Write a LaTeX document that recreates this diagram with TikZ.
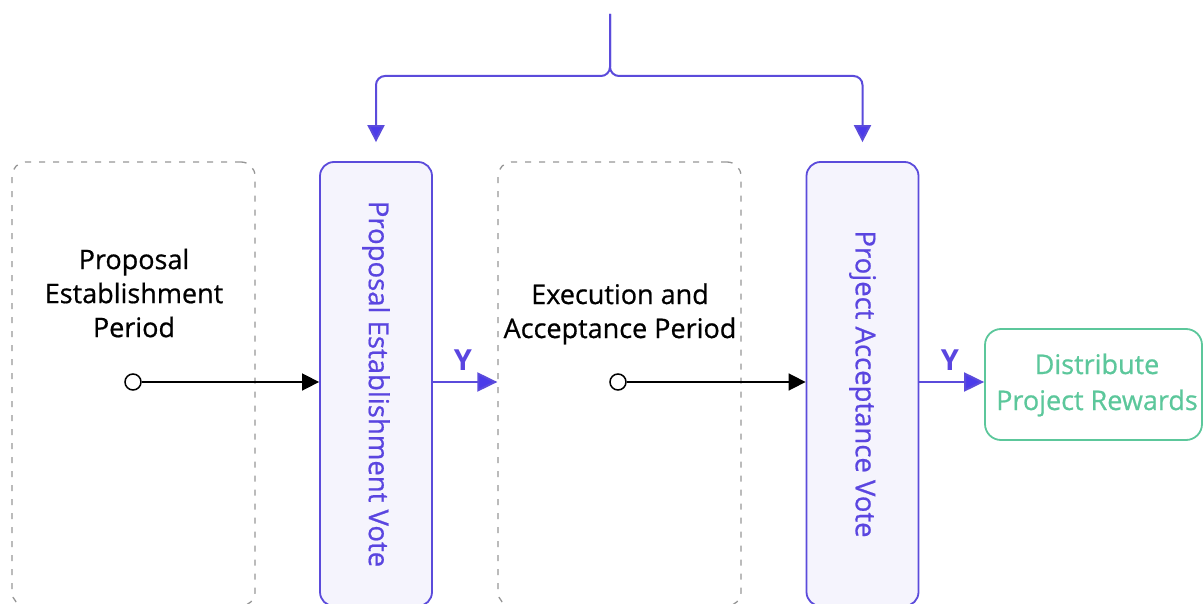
\documentclass[tikz,border=0pt]{standalone}
\usepackage{fontspec}
\setmainfont{Open Sans}
\newfontfamily\medfont{Open Sans}[FakeBold=0.7]
\usetikzlibrary{arrows.meta,calc}
\definecolor{vp}{HTML}{5B4BDB}
\definecolor{vpa}{HTML}{4B3BEA}
\definecolor{vtext}{HTML}{5A45E0}
\definecolor{vfill}{HTML}{F5F4FD}
\definecolor{gr}{HTML}{5CC79B}
\definecolor{dg}{HTML}{969696}
\begin{document}
\begin{tikzpicture}[x=1pt,y=-1pt,
  period/.style={draw=dg, line width=1.3pt, dash pattern=on 6pt off 8pt, rounded corners=14pt,
    minimum width=243pt, minimum height=444pt, inner sep=0pt},
  votebox/.style={draw=vp, fill=vfill, line width=1.8pt, rounded corners=14pt,
    minimum width=112pt, minimum height=444pt, inner sep=0pt},
  votetext/.style={rotate=-90, text=vtext, font=\medfont\fontsize{27.5}{32}\selectfont, inner sep=0pt},
  periodtext/.style={align=center, font=\medfont\fontsize{27}{34}\selectfont, inner sep=0pt},
  endbox/.style={draw=gr, line width=1.8pt, rounded corners=16pt, minimum width=217pt,
    minimum height=111pt, inner sep=0pt},
  endtext/.style={align=center, text=gr, font=\medfont\fontsize{27}{36}\selectfont, inner sep=0pt},
  startdot/.style={circle, draw=black, line width=1.5pt, fill=white, minimum size=16pt, inner sep=0pt},
  blackarrow/.style={draw=black, line width=1.6pt, -{Triangle[length=17pt,width=17pt]}},
  purparrow/.style={draw=vp, line width=2pt, -{Triangle[length=20pt,width=19pt,fill=vpa]}},
  toparrow/.style={draw=vp, line width=2pt, rounded corners=9pt, -{Triangle[length=17pt,width=17pt,fill=vpa]}},
  ylab/.style={text=vtext, font=\fontsize{29}{32}\selectfont\bfseries, inner sep=0pt}]
\useasboundingbox (0,0) rectangle (1204,604);

% periods
\node[period] (p1) at (133.5,384) {};
\node[period] (p2) at (619.5,384) {};
\node[periodtext] (p1t) at (134,293) {Proposal\\Establishment\\Period};
\node[periodtext] (p2t) at (620,314) {Execution and\\Acceptance Period};

% vote boxes
\node[votebox] (v1) at (376,384) {};
\node[votebox] (v2) at (862.5,384) {};
\node[votetext] (v1t) at (v1) {Proposal Establishment Vote};
\node[votetext] (v2t) at (v2) {Project Acceptance Vote};

% end box
\node[endbox] (d) at (1093.5,384.5) {};
\node[endtext] (dt) at (1097,385) {Distribute\\Project Rewards};

% start dots and arrows
\node[startdot] (c1) at (133,382) {};
\node[startdot] (c2) at (618,382) {};
\draw[blackarrow] (c1) -- (c1 -| v1.west);
\draw[blackarrow] (c2) -- (c2 -| v2.west);

% Y arrows
\coordinate (y1s) at ($(v1.east)+(0,-2)$);
\coordinate (y2s) at ($(v2.east)+(0,-2)$);
\draw[purparrow] (y1s) -- (y1s -| p2.west);
\draw[purparrow] (y2s) -- (y2s -| d.west);
\node[ylab] (y1) at (463,360) {Y};
\node[ylab] (y2) at (950,360) {Y};

% top split
\coordinate (top) at (610,14);
\coordinate (a1) at ($(v1.north)+(0,-19)$);
\coordinate (a2) at ($(v2.north)+(0,-19)$);
\draw[toparrow] (top) -- (610,76) -| (a1);
\draw[toparrow] (top) -- (610,76) -| (a2);
\end{tikzpicture}
\end{document}
